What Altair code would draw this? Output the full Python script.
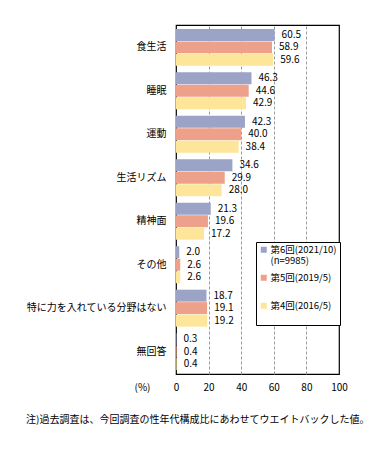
import altair as alt
import pandas as pd

categories = ["食生活", "睡眠", "運動", "生活リズム", "精神面", "その他", "特に力を入れている分野はない", "無回答"]
series = ["第6回(2021/10)", "第5回(2019/5)", "第4回(2016/5)"]
v6 = [60.5, 46.3, 42.3, 34.6, 21.3, 2.0, 18.7, 0.3]
v5 = [58.9, 44.6, 40.0, 29.9, 19.6, 2.6, 19.1, 0.4]
v4 = [59.6, 42.9, 38.4, 28.0, 17.2, 2.6, 19.2, 0.4]
colors = ["#9BA3C7", "#EDA08A", "#FDE699"]
x_ticks = [0, 20, 40, 60, 80, 100]
note = "注)過去調査は、今回調査の性年代構成比にあわせてウエイトバックした値。"
n_note = "(n=9985)"

rows = []
for s, vals in zip(series, [v6, v5, v4]):
    for c, v in zip(categories, vals):
        rows.append({"category": c, "series": s, "value": v, "label": f"{v:.1f}"})
df = pd.DataFrame(rows)

FONT = "Noto Sans CJK JP"

y_enc = alt.Y("category:N", sort=categories, title=None,
              scale=alt.Scale(paddingInner=0.15, paddingOuter=0.09),
              axis=alt.Axis(ticks=False, domain=False, labelPadding=10,
                            labelFontSize=10, labelFont=FONT, labelColor="#000"))
yoff = alt.YOffset("series:N", sort=series, scale=alt.Scale(paddingInner=0.04))
x_enc = alt.X("value:Q", scale=alt.Scale(domain=[0, 100]),
              axis=alt.Axis(values=x_ticks, tickCount=10, ticks=False, domain=False, grid=True,
                            gridDash=[3, 2], gridColor="#999999",
                            gridOpacity={"condition": {"test": "datum.value == 0 || datum.value == 100", "value": 0}, "value": 1},
                            labelOverlap=False, labelFlush=False,
                            labelPadding=8, labelFontSize=10, labelFont=FONT, labelColor="#000",
                            title="(%)", titleFontWeight="normal", titleFontSize=10, titleFont=FONT,
                            titleAnchor="start", titleAlign="center", titleX=-34, titleY=13,
                            titleBaseline="middle"))

label_expr = (f"datum.label == '{series[0]}' ? ['{series[0]}', '{n_note}'] : [datum.label, ' ']")

color_enc = alt.Color("series:N", sort=series,
                      scale=alt.Scale(domain=series, range=colors),
                      legend=alt.Legend(title=None, orient="none", legendX=80, legendY=217,
                                        symbolType="square", symbolSize=36, symbolStrokeWidth=0,
                                        labelFontSize=9.5, labelFont=FONT, labelColor="#000",
                                        labelOffset=2, labelLimit=200,
                                        strokeColor="#000", fillColor="white",
                                        padding=3, rowPadding=6,
                                        labelExpr=label_expr))

bars = alt.Chart(df).mark_bar().encode(y=y_enc, yOffset=yoff, x=x_enc, color=color_enc)
texts = alt.Chart(df).mark_text(align="left", dx=7, baseline="middle", fontSize=10, font=FONT, color="#000").encode(
    y=alt.Y("category:N", sort=categories), yOffset=alt.YOffset("series:N", sort=series), x="value:Q", text="label:N")

chart = alt.layer(bars, texts).properties(
    width=163, height=349, background="white",
    padding={"left": 18, "top": 17, "right": 5, "bottom": 5},
    title=alt.TitleParams(note, orient="bottom", anchor="start", frame="bounds",
                          fontSize=10, fontWeight="normal", font=FONT, color="#000", offset=23),
).configure_view(stroke="#000", strokeWidth=1.2)

chart.save("out.html", embed_options={"renderer": "svg", "actions": False})
